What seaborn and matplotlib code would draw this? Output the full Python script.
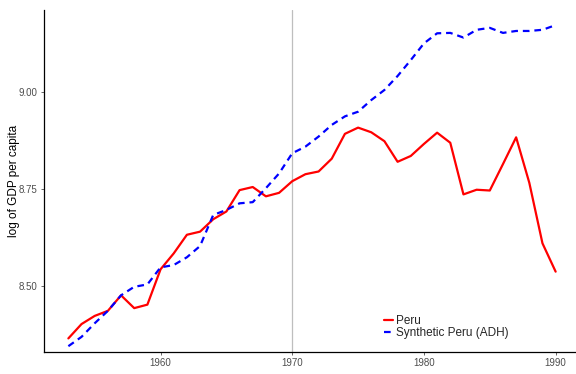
import numpy as np
import pandas as pd
import matplotlib
matplotlib.use("Agg")
import matplotlib.pyplot as plt
import seaborn as sns

years = list(range(1953, 1991))
peru = [8.365, 8.402, 8.423, 8.436, 8.476, 8.443, 8.452, 8.543, 8.584, 8.632,
        8.640, 8.672, 8.692, 8.747, 8.755, 8.731, 8.740, 8.770, 8.788, 8.795,
        8.828, 8.892, 8.908, 8.896, 8.873, 8.820, 8.835, 8.866, 8.895, 8.869,
        8.736, 8.748, 8.746, 8.814, 8.883, 8.766, 8.610, 8.537]
synth = [8.345, 8.369, 8.404, 8.436, 8.476, 8.498, 8.504, 8.548, 8.554, 8.574,
         8.603, 8.683, 8.696, 8.713, 8.716, 8.752, 8.790, 8.842, 8.859, 8.885,
         8.915, 8.937, 8.949, 8.979, 9.005, 9.041, 9.082, 9.125, 9.151, 9.152,
         9.140, 9.160, 9.165, 9.152, 9.157, 9.157, 9.160, 9.172]
series_names = ["Peru", "Synthetic Peru (ADH)"]
xticks = [1960, 1970, 1980, 1990]
yticks = [8.50, 8.75, 9.00]
ytick_labels = ["8.50", "8.75", "9.00"]
treatment_year = 1970

df = pd.DataFrame({
    "year": years * 2,
    "value": peru + synth,
    "series": [series_names[0]] * len(years) + [series_names[1]] * len(years),
})

sns.set_style("white")
plt.rcParams["font.family"] = ["Liberation Sans", "DejaVu Sans"]

fig = plt.figure(figsize=(5.76, 3.74), dpi=100)
ax = fig.add_axes([44 / 576, 1 - 352 / 374, (580 - 44) / 576, (352 - 10) / 374])

ax.axvline(treatment_year, color="#BEBEBE", lw=0.9, zorder=0)

sns.lineplot(data=df, x="year", y="value", hue="series", style="series",
             palette={series_names[0]: "#FF0000", series_names[1]: "#0000FF"},
             dashes={series_names[0]: "", series_names[1]: (3, 2.2)},
             linewidth=1.6, ax=ax, legend=True)

ax.set_xlim(1951.15, 1991.85)
ax.set_ylim(8.330, 9.211)
ax.set_xticks(xticks)
ax.set_xticklabels([str(t) for t in xticks])
ax.set_yticks(yticks)
ax.set_yticklabels(ytick_labels)
ax.tick_params(axis="both", labelsize=7, colors="#4D4D4D", length=2.5,
               width=0.6, direction="out", pad=2)
ax.tick_params(axis="both", which="both", bottom=True, left=True)
ax.set_xlabel("")
ax.set_ylabel("log of GDP per capita", fontsize=8.5, color="black", labelpad=-0.5)

for s in ["top", "right"]:
    ax.spines[s].set_visible(False)
for s in ["left", "bottom"]:
    ax.spines[s].set_color("black")
    ax.spines[s].set_linewidth(0.9)

handles, labels = ax.get_legend_handles_labels()
for h in handles:
    h.set_linewidth(1.6)
leg = ax.legend(handles, labels, loc="center left",
                bbox_to_anchor=(0.635, 0.072), frameon=False, fontsize=8.5,
                handlelength=0.75, handletextpad=0.2, labelspacing=0.02,
                borderpad=0, borderaxespad=0)

fig.savefig("out.png", dpi=100)
